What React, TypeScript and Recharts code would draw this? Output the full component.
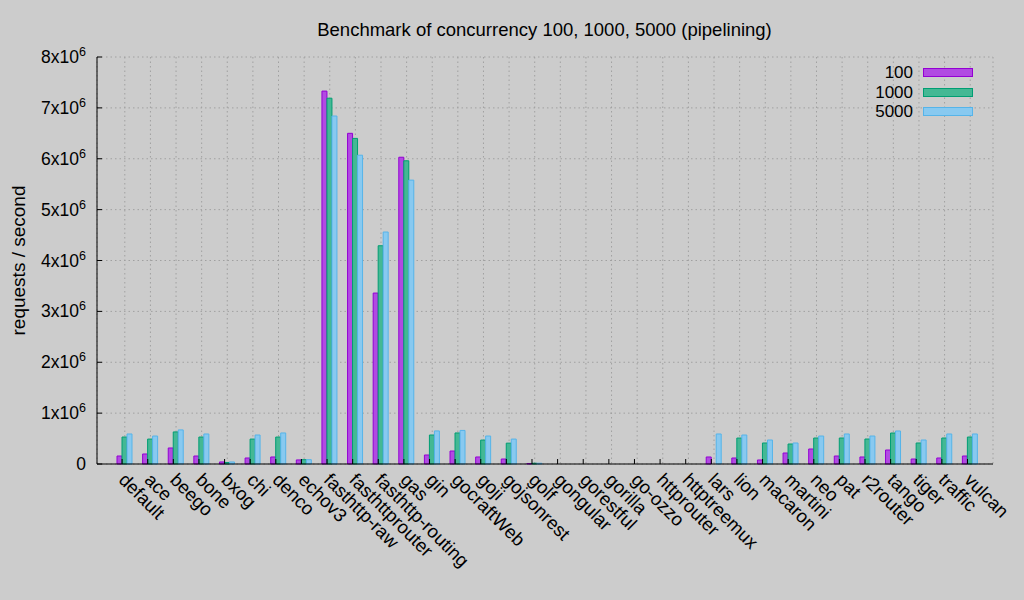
import React from "react";
import { BarChart, Bar, XAxis, YAxis, CartesianGrid, Legend, Label } from "recharts";

const FONT = '"Liberation Sans", Arial, Helvetica, sans-serif';
const BG = "#cccccc";
const PLOT_LEFT = 97;
const PLOT_BOTTOM = 464;

// router names, in plot order
const routers = [
  "default", "ace", "beego", "bone", "bxog", "chi", "denco", "echov3",
  "fasthttp-raw", "fasthttprouter", "fasthttp-routing", "gas", "gin", "gocraftWeb",
  "goji", "gojsonrest", "golf", "gongular", "gorestful", "gorilla", "go-ozzo",
  "httprouter", "httptreemux", "lars", "lion", "macaron", "martini", "neo", "pat",
  "r2router", "tango", "tiger", "traffic", "vulcan",
];

// requests / second
const conc100 = [
  157000, 197000, 315000, 157000, 40000, 118000, 138000, 80000,
  7330000, 6500000, 3360000, 6030000, 177000, 255000,
  138000, 98000, 10000, 0, 0, 0, 0,
  0, 0, 138000, 118000, 79000, 216000, 295000, 157000,
  138000, 275000, 98000, 118000, 157000,
];
const conc1000 = [
  530000, 490000, 630000, 530000, 30000, 490000, 530000, 85000,
  7190000, 6400000, 4290000, 5960000, 570000, 610000,
  470000, 410000, 15000, 0, 0, 0, 0,
  0, 0, 0, 510000, 413000, 393000, 511000, 511000,
  491000, 609000, 413000, 511000, 530000,
];
const conc5000 = [
  590000, 550000, 670000, 590000, 40000, 570000, 610000, 85000,
  6840000, 6070000, 4560000, 5580000, 650000, 660000,
  550000, 490000, 15000, 0, 0, 0, 0,
  0, 0, 590000, 570000, 472000, 413000, 550000, 590000,
  550000, 649000, 472000, 590000, 590000,
];

const yTicks = [0, 1e6, 2e6, 3e6, 4e6, 5e6, 6e6, 7e6, 8e6];

const series = [
  { key: "c100", name: "100", fill: "#b14ae2", stroke: "#9400d3" },
  { key: "c1000", name: "1000", fill: "#44b894", stroke: "#009e73" },
  { key: "c5000", name: "5000", fill: "#88c9f0", stroke: "#56b4e9" },
];

const data = routers.map((name, i) => ({
  name,
  c100: conc100[i],
  c1000: conc1000[i],
  c5000: conc5000[i],
}));

function YTick(props: any) {
  const { y, payload } = props;
  const v = payload.value as number;
  return (
    <g>
      <line x1={PLOT_LEFT} x2={PLOT_LEFT + 5} y1={y} y2={y} stroke="#000" />
      <text x={86} y={y + 6} textAnchor="end" fontSize={17.5} fontFamily={FONT} fill="#000">
        {v === 0 ? (
          "0"
        ) : (
          <>
            <tspan>{`${v / 1e6}x10`}</tspan>
            <tspan dy={-7} fontSize={12.5}>6</tspan>
          </>
        )}
      </text>
    </g>
  );
}

function XTick(props: any) {
  const { x, payload } = props;
  const tx = x - 7;
  const ty = 481;
  return (
    <g>
      <line x1={x - 2.7} x2={x - 2.7} y1={PLOT_BOTTOM} y2={PLOT_BOTTOM - 5} stroke="#000" />
      <text
        x={tx}
        y={ty}
        transform={`rotate(45, ${tx}, ${ty})`}
        textAnchor="start"
        fontSize={18.5}
        fontFamily={FONT}
        fill="#000"
      >
        {payload.value}
      </text>
    </g>
  );
}

function LegendBox() {
  return (
    <div style={{ fontFamily: FONT, fontSize: 17, color: "#000" }}>
      {series.map((s) => (
        <div key={s.key} style={{ display: "flex", alignItems: "center", height: 19.5 }}>
          <span style={{ width: 53, textAlign: "right", lineHeight: "19.5px" }}>{s.name}</span>
          <span
            style={{
              marginLeft: 10,
              width: 48,
              height: 7,
              background: s.fill,
              border: `1px solid ${s.stroke}`,
            }}
          />
        </div>
      ))}
    </div>
  );
}

export default function App() {
  return (
    <div style={{ position: "absolute", left: 0, top: 0, width: 1024, height: 600, background: BG }}>
      <div
        style={{
          position: "absolute",
          top: 19,
          left: 0,
          width: 1089,
          textAlign: "center",
          fontFamily: FONT,
          fontSize: 18.5,
          color: "#000",
        }}
      >
        Benchmark of concurrency 100, 1000, 5000 (pipelining)
      </div>
      <BarChart
        width={1024}
        height={600}
        data={data}
        margin={{ top: 57, right: 31, bottom: 36, left: 0 }}
        barCategoryGap={5}
        barGap={0}
      >
        <CartesianGrid stroke="#a0a0a0" strokeDasharray="1.5 3" />
        <XAxis
          dataKey="name"
          height={100}
          interval={0}
          padding={{ left: 15, right: 10 }}
          axisLine={{ stroke: "#000" }}
          tickLine={false}
          tick={<XTick />}
        />
        <YAxis
          width={97}
          domain={[0, 8e6]}
          ticks={yTicks}
          interval={0}
          axisLine={{ stroke: "#000" }}
          tickLine={false}
          tick={<YTick />}
        >
          <Label
            content={(p: any) => {
              const vb = p.viewBox || { x: 0, y: 57, height: 407 };
              const cx = 18;
              const cy = vb.y + vb.height / 2;
              return (
                <text
                  x={cx}
                  y={cy}
                  transform={`rotate(-90, ${cx}, ${cy})`}
                  textAnchor="middle"
                  dominantBaseline="central"
                  fontSize={19}
                  fontFamily={FONT}
                  fill="#000"
                >
                  requests / second
                </text>
              );
            }}
          />
        </YAxis>
        <Legend
          layout="horizontal"
          verticalAlign="middle"
          align="center"
          content={<LegendBox />}
          wrapperStyle={{ position: "absolute", top: 63, left: 860, width: 130 }}
        />
        {series.map((s) => (
          <Bar
            key={s.key}
            dataKey={s.key}
            name={s.name}
            fill={s.fill}
            stroke={s.stroke}
            strokeWidth={1}
            isAnimationActive={false}
          />
        ))}
      </BarChart>
    </div>
  );
}
